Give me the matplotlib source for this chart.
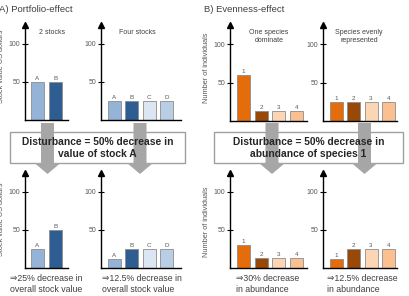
import matplotlib
matplotlib.use("Agg")
import matplotlib.pyplot as plt
from matplotlib.patches import Rectangle, Polygon

W, H = 409, 296
fig = plt.figure(figsize=(W / 100, H / 100), dpi=100)
FONT = ["Liberation Sans", "DejaVu Sans"]
plt.rcParams["font.family"] = FONT

# data
stocks_2 = ["A", "B"]
stocks_4 = ["A", "B", "C", "D"]
species = ["1", "2", "3", "4"]
two_before = [50, 50]
two_after = [25, 50]
four_before = [25, 25, 25, 25]
four_after = [12.5, 25, 25, 25]
dom_before = [60, 13.3, 13.3, 13.3]
dom_after = [30, 13.3, 13.3, 13.3]
even_before = [25, 25, 25, 25]
even_after = [12.5, 25, 25, 25]

blue_2 = ["#95b3d7", "#2e5d91"]
blue_4 = ["#95b3d7", "#2e5d91", "#dce6f2", "#b9cde5"]
orange_4 = ["#e46c0a", "#984807", "#fcd5b5", "#fac090"]
grey_txt = "#595959"


def fx(px):
    return px / W


def fy(py):
    return 1 - py / H


def panel(x0, x1, ytop, ybase, first, step, values, labels, colors):
    ax = fig.add_axes([fx(x0), fy(ybase), (x1 - x0) / W, (ybase - ytop) / H])
    pos = list(range(len(values)))
    ax.bar(pos, values, width=13 / step, color=colors, edgecolor="#8c8c8c",
           linewidth=0.6, zorder=2)
    for p, v, l in zip(pos, values, labels):
        ax.text(p, v + 1, l, ha="center", va="bottom", fontsize=4.5, color=grey_txt)
    ax.set_ylim(0, 125)
    ax.set_xlim(-(first - x0) / step, (x1 - first) / step)
    ax.patch.set_alpha(0)
    for s in ["top", "right"]:
        ax.spines[s].set_visible(False)
    for s in ["left", "bottom"]:
        ax.spines[s].set_linewidth(1)
    ax.set_xticks([])
    ax.set_yticks([50, 100])
    ax.tick_params(axis="y", direction="inout", length=5, width=0.8,
                   labelsize=5, labelcolor=grey_txt, pad=1)
    ax.plot(0, 1, marker="^", color="k", markersize=4, transform=ax.transAxes,
            clip_on=False)
    return ax


# top row
panel(25, 68, 25, 120, 37, 18.5, two_before, stocks_2, blue_2)
panel(101, 181, 25, 120, 114, 17.5, four_before, stocks_4, blue_4)
panel(230, 307, 25, 121, 243.5, 17.7, dom_before, species, orange_4)
panel(323, 397, 25, 121, 336, 17.5, even_before, species, orange_4)
# bottom row
panel(25, 68, 173, 268, 37, 18.5, two_after, stocks_2, blue_2)
panel(101, 181, 173, 268, 114, 17.5, four_after, stocks_4, blue_4)
panel(230, 307, 173, 268, 243.5, 17.7, dom_after, species, orange_4)
panel(323, 397, 173, 268, 336, 17.5, even_after, species, orange_4)

# section titles
fig.text(fx(-1), fy(9), "A) Portfolio-effect", fontsize=6.8, color="#404040", va="center")
fig.text(fx(204), fy(9), "B) Evenness-effect", fontsize=6.8, color="#404040", va="center")

# panel titles
for x, t in [(52, "2 stocks"), (137, "Four stocks"),
             (269, "One species\ndominate"), (359, "Species evenly\nrepresented")]:
    fig.text(fx(x), fy(29), t, fontsize=5, color="#404040", ha="center", va="top",
             linespacing=1.3)

# axis titles
for x, y, t in [(2, 66, "Stock value US dollars"), (2, 219, "Stock value US dollars"),
                (207, 68, "Number of individuals"), (207, 222, "Number of individuals")]:
    fig.text(fx(x), fy(y), t, rotation=90, fontsize=5.3, color=grey_txt,
             ha="center", va="center")

# disturbance boxes and grey arrows
for bx0, bx1 in [(10, 185), (214, 403)]:
    fig.patches.append(Rectangle((fx(bx0), fy(163)), (bx1 - bx0) / W, 31 / H,
                                 transform=fig.transFigure, facecolor="white",
                                 edgecolor="#a0a0a0", linewidth=1, zorder=1))
for cx in [47.5, 140, 272, 364.5]:
    pts = [(cx - 6.5, 123), (cx + 6.5, 123), (cx + 6.5, 163), (cx + 13, 163),
           (cx, 174), (cx - 13, 163), (cx - 6.5, 163)]
    fig.patches.append(Polygon([(fx(a), fy(b)) for a, b in pts], closed=True,
                               transform=fig.transFigure, facecolor="#a6a6a6",
                               edgecolor="none", zorder=2))
fig.text(fx(97.5), fy(148), "Disturbance = 50% decrease in\nvalue of stock A",
         fontsize=7.4, fontweight="bold", ha="center", va="center", color="#262626",
         linespacing=1.3, zorder=3)
fig.text(fx(308.5), fy(148), "Disturbance = 50% decrease in\nabundance of species 1",
         fontsize=7.4, fontweight="bold", ha="center", va="center", color="#262626",
         linespacing=1.3, zorder=3)

# result texts
for x, t in [(10, "\u21d225% decrease in\noverall stock value"),
             (102, "\u21d212.5% decrease in\noverall stock value"),
             (236, "\u21d230% decrease\nin abundance"),
             (327, "\u21d212.5% decrease\nin abundance")]:
    fig.text(fx(x), fy(284), t, fontsize=6.3, color="#404040", ha="left", va="center",
             linespacing=1.35)

fig.savefig("out.png", dpi=100)
